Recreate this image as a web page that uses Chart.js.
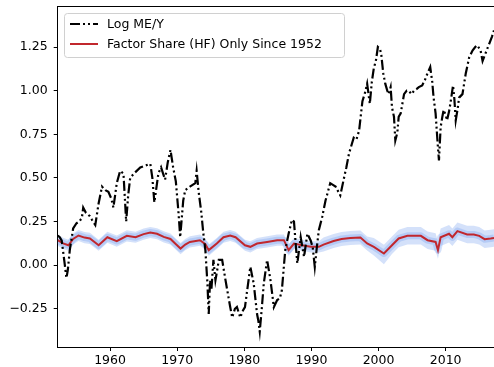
<!DOCTYPE html>
<html>
<head>
<meta charset="utf-8">
<script src="https://cdn.jsdelivr.net/npm/chart.js@4/dist/chart.umd.min.js"></script>
<style>
  html, body { margin: 0; padding: 0; background: #fff; overflow: hidden; }
  #wrap { width: 494px; height: 367px; position: relative; }
</style>
</head>
<body>
<div id="wrap"><canvas id="c" width="494" height="367"></canvas></div>
<script>
// Log market equity to output ratio
const meyYears = [
  1952.2,1952.5,1952.8,1953.2,1953.5,1953.7,1954.0,1954.5,1955.0,1955.4,1955.8,1956.0,1956.4,1956.7,1957.0,1957.3,1957.8,
  1958.3,1958.8,1959.3,1959.75,1960.2,1960.5,1961.0,1961.5,1962.0,1962.4,1962.7,1963.0,1963.7,1964.5,1965.2,1966.0,1966.3,
  1966.6,1967.2,1967.6,1968.2,1968.6,1969.0,1969.4,1969.8,1970.2,1970.45,1970.9,1971.2,1971.9,1972.3,1972.7,1972.9,1973.2,
  1973.6,1973.9,1974.2,1974.5,1974.7,1974.9,1975.1,1975.4,1975.7,1976.0,1976.2,1976.7,1977.2,1977.9,1978.2,1978.6,1978.9,
  1979.4,1979.8,1980.1,1980.5,1980.9,1981.4,1981.9,1982.1,1982.3,1982.6,1982.9,1983.4,1983.9,1984.4,1984.9,1985.3,1985.6,
  1986.1,1986.6,1987.1,1987.4,1987.7,1987.9,1988.4,1988.9,1989.4,1989.9,1990.2,1990.5,1990.8,1991.1,1991.6,1992.1,1992.8,
  1993.2,1993.6,1994.3,1994.8,1995.2,1995.6,1996.3,1996.7,1997.1,1997.6,1998.0,1998.3,1998.7,1999.0,1999.3,1999.6,1999.9,
  2000.2,2000.4,2000.7,2001.0,2001.3,2001.5,2001.8,2002.0,2002.3,2002.5,2002.8,2003.0,2003.3,2003.8,2004.2,2004.5,2004.9,
  2005.3,2005.7,2006.0,2006.5,2006.9,2007.3,2007.7,2008.0,2008.2,2008.5,2008.8,2009.0,2009.25,2009.5,2009.7,2010.0,2010.2,
  2010.5,2010.7,2011.1,2011.3,2011.5,2011.8,2012.0,2012.5,2013.0,2013.5,2014.0,2014.4,2014.7,2015.2,2015.5,2015.8,2016.0,
  2016.5,2016.9,2017.2
];
const meyValues = [
  0.17,0.16,0.14,0.02,-0.074,-0.03,0.086,0.21,0.24,0.25,0.27,0.33,0.30,0.29,0.28,0.26,0.23,
  0.355,0.45,0.43,0.42,0.38,0.33,0.47,0.54,0.525,0.25,0.40,0.50,0.53,0.56,0.57,0.58,0.50,
  0.36,0.525,0.56,0.49,0.59,0.66,0.56,0.48,0.30,0.16,0.37,0.43,0.45,0.46,0.47,0.54,0.42,
  0.30,0.18,0.086,-0.10,-0.28,-0.086,-0.14,0.03,-0.086,-0.02,0.03,0.03,-0.086,-0.24,-0.30,-0.25,-0.24,
  -0.30,-0.26,-0.24,-0.124,-0.01,-0.105,-0.28,-0.32,-0.38,-0.25,-0.105,0.03,-0.086,-0.24,-0.20,-0.19,-0.143,
  0.086,0.18,0.26,0.25,0.10,0.01,0.16,0.048,0.18,0.14,0.10,-0.01,0.10,0.20,0.276,0.37,0.47,
  0.46,0.45,0.40,0.49,0.56,0.64,0.73,0.72,0.77,0.94,0.99,1.04,0.925,1.05,1.13,1.17,1.25,
  1.24,1.21,1.10,1.04,1.00,0.98,1.02,0.905,0.85,0.715,0.76,0.85,0.87,0.98,1.00,1.00,0.98,
  1.00,1.01,1.02,1.03,1.06,1.10,1.135,1.05,0.96,0.87,0.70,0.60,0.79,0.85,0.89,0.86,0.83,
  0.88,0.925,1.03,0.95,0.83,0.90,0.96,0.98,1.10,1.19,1.23,1.25,1.26,1.23,1.17,1.20,1.22,
  1.27,1.31,1.345
];

// Factor share estimate with its uncertainty band
const shareYears = [
  1952.2,1953.0,1953.8,1954.5,1955.3,1956.2,1957.0,1958.3,1959.6,1961.0,1962.5,1963.8,1965.0,1966.0,1967.0,1968.0,
  1969.0,1969.7,1970.5,1971.2,1971.9,1973.4,1974.2,1974.7,1975.9,1976.9,1977.9,1978.7,1980.1,1980.9,1981.9,1983.4,
  1984.9,1985.9,1986.6,1987.4,1988.6,1989.9,1991.1,1991.8,1993.3,1994.5,1995.8,1997.3,1998.3,1999.3,2000.8,2002.0,
  2003.0,2004.3,2006.3,2007.3,2008.5,2008.85,2009.25,2010.5,2011.0,2011.75,2013.2,2014.2,2015.0,2015.8,2016.7,2017.2
];
const shareValues = [
  0.143,0.125,0.114,0.150,0.170,0.158,0.153,0.114,0.160,0.138,0.168,0.160,0.178,0.187,0.180,0.162,
  0.150,0.124,0.095,0.118,0.133,0.143,0.120,0.086,0.124,0.160,0.170,0.160,0.114,0.105,0.124,0.133,
  0.143,0.143,0.086,0.124,0.114,0.105,0.105,0.118,0.138,0.150,0.155,0.158,0.124,0.105,0.067,0.114,
  0.153,0.168,0.168,0.143,0.133,0.086,0.160,0.180,0.160,0.195,0.176,0.176,0.168,0.149,0.153,0.156
];
const shareHi = [
  0.175,0.157,0.146,0.182,0.202,0.190,0.185,0.146,0.192,0.170,0.200,0.192,0.210,0.219,0.212,0.194,
  0.182,0.156,0.127,0.150,0.165,0.175,0.152,0.118,0.156,0.192,0.202,0.192,0.146,0.137,0.156,0.165,
  0.175,0.175,0.118,0.156,0.146,0.137,0.137,0.158,0.178,0.190,0.195,0.198,0.164,0.155,0.117,0.164,
  0.203,0.218,0.218,0.193,0.183,0.136,0.210,0.230,0.210,0.245,0.226,0.226,0.218,0.199,0.203,0.206
];
const shareLo = [
  0.111,0.093,0.082,0.118,0.138,0.126,0.121,0.082,0.128,0.106,0.136,0.128,0.146,0.155,0.148,0.130,
  0.118,0.092,0.063,0.086,0.101,0.111,0.088,0.054,0.092,0.128,0.138,0.128,0.082,0.073,0.092,0.101,
  0.111,0.111,0.054,0.092,0.082,0.073,0.073,0.078,0.098,0.110,0.115,0.118,0.084,0.055,0.005,0.064,
  0.103,0.118,0.118,0.093,0.083,0.036,0.110,0.130,0.110,0.145,0.126,0.126,0.118,0.099,0.103,0.106
];

const yTicks = [-0.25, 0, 0.25, 0.5, 0.75, 1.0, 1.25];
const xTicks = [1960, 1970, 1980, 1990, 2000, 2010];

const pts = (xs, ys) => xs.map((x, i) => ({ x: x, y: ys[i] }));

const FONT = 'DejaVu Sans';
const MEY_DASH = [10, 3, 2, 3, 2, 3];
const BAND = 'rgba(100,149,237,0.28)';

// Legend box drawn on top of the plot, upper left
const legendBox = {
  id: 'legendBox',
  afterDraw(chart) {
    const ctx = chart.ctx;
    const ds = chart.data.datasets;
    const x0 = 64.5, y0 = 13.5, w = 280, h = 44, r = 3;
    ctx.save();
    ctx.beginPath();
    ctx.moveTo(x0 + r, y0);
    ctx.lineTo(x0 + w - r, y0);
    ctx.arcTo(x0 + w, y0, x0 + w, y0 + r, r);
    ctx.lineTo(x0 + w, y0 + h - r);
    ctx.arcTo(x0 + w, y0 + h, x0 + w - r, y0 + h, r);
    ctx.lineTo(x0 + r, y0 + h);
    ctx.arcTo(x0, y0 + h, x0, y0 + h - r, r);
    ctx.lineTo(x0, y0 + r);
    ctx.arcTo(x0, y0, x0 + r, y0, r);
    ctx.closePath();
    ctx.fillStyle = 'rgba(255,255,255,0.85)';
    ctx.fill();
    ctx.strokeStyle = '#d0d0d0';
    ctx.lineWidth = 1;
    ctx.stroke();

    const rows = [ds[0], ds[1]];
    rows.forEach((d, i) => {
      const yy = 24 + i * 20;
      ctx.beginPath();
      ctx.setLineDash(d.borderDash || []);
      ctx.strokeStyle = d.borderColor;
      ctx.lineWidth = d.borderWidth;
      ctx.moveTo(70, yy);
      ctx.lineTo(98, yy);
      ctx.stroke();
      ctx.setLineDash([]);
      ctx.fillStyle = '#000';
      ctx.font = '12.5px "' + FONT + '"';
      ctx.textBaseline = 'middle';
      ctx.textAlign = 'left';
      ctx.fillText(d.label, 107, yy + 0.5);
    });
    // top spine
    const a = chart.chartArea;
    ctx.beginPath();
    ctx.strokeStyle = '#000';
    ctx.lineWidth = 1;
    ctx.moveTo(a.left, a.top + 0.5);
    ctx.lineTo(a.right, a.top + 0.5);
    ctx.stroke();
    ctx.restore();
  }
};

new Chart(document.getElementById('c'), {
  type: 'line',
  data: {
    datasets: [
      {
        label: 'Log ME/Y',
        data: pts(meyYears, meyValues),
        borderColor: '#000',
        borderWidth: 2.2,
        borderDash: MEY_DASH,
        pointRadius: 0,
        tension: 0,
        fill: false,
        order: 0
      },
      {
        label: 'Factor Share (HF) Only Since 1952',
        data: pts(shareYears, shareValues),
        borderColor: '#c1272d',
        borderWidth: 2,
        pointRadius: 0,
        tension: 0,
        fill: false,
        order: 1
      },
      {
        label: 'band-inner',
        data: pts(shareYears, shareValues),
        borderColor: BAND,
        borderWidth: 7,
        borderJoinStyle: 'round',
        pointRadius: 0,
        tension: 0,
        fill: false,
        order: 2
      },
      {
        label: 'band-hi',
        data: pts(shareYears, shareHi),
        borderColor: 'rgba(0,0,0,0)',
        borderWidth: 0,
        backgroundColor: BAND,
        pointRadius: 0,
        tension: 0,
        fill: { target: 4 },
        order: 3
      },
      {
        label: 'band-lo',
        data: pts(shareYears, shareLo),
        borderColor: 'rgba(0,0,0,0)',
        borderWidth: 0,
        pointRadius: 0,
        tension: 0,
        fill: false,
        order: 3
      }
    ]
  },
  options: {
    responsive: false,
    animation: false,
    layout: { padding: { top: 6, right: 0, left: 0, bottom: 0 } },
    plugins: {
      legend: { display: false },
      tooltip: { enabled: false }
    },
    scales: {
      x: {
        type: 'linear',
        min: 1952.2,
        max: 2017.2,
        afterBuildTicks: s => { s.ticks = xTicks.map(v => ({ value: v })); },
        afterFit: s => { s.height = 20; s.paddingLeft = 0; s.paddingRight = 0; },
        ticks: {
          autoSkip: false,
          maxRotation: 0,
          padding: 2,
          color: '#000',
          font: { family: FONT, size: 12.5 },
          callback: v => String(v)
        },
        grid: { drawOnChartArea: false, drawTicks: true, tickLength: 4, color: '#000' },
        border: { display: true, color: '#000', width: 1 }
      },
      y: {
        type: 'linear',
        min: -0.469,
        max: 1.485,
        afterBuildTicks: s => { s.ticks = yTicks.map(v => ({ value: v })); },
        afterFit: s => { s.width = 57.7; s.paddingTop = 0; s.paddingBottom = 0; },
        ticks: {
          autoSkip: false,
          padding: 6,
          color: '#000',
          font: { family: FONT, size: 12.5 },
          callback: v => (v < 0 ? '\u2212' : '') + Math.abs(v).toFixed(2)
        },
        grid: { drawOnChartArea: false, drawTicks: true, tickLength: 4, color: '#000' },
        border: { display: true, color: '#000', width: 1 }
      }
    }
  },
  plugins: [legendBox]
});
</script>
</body>
</html>
